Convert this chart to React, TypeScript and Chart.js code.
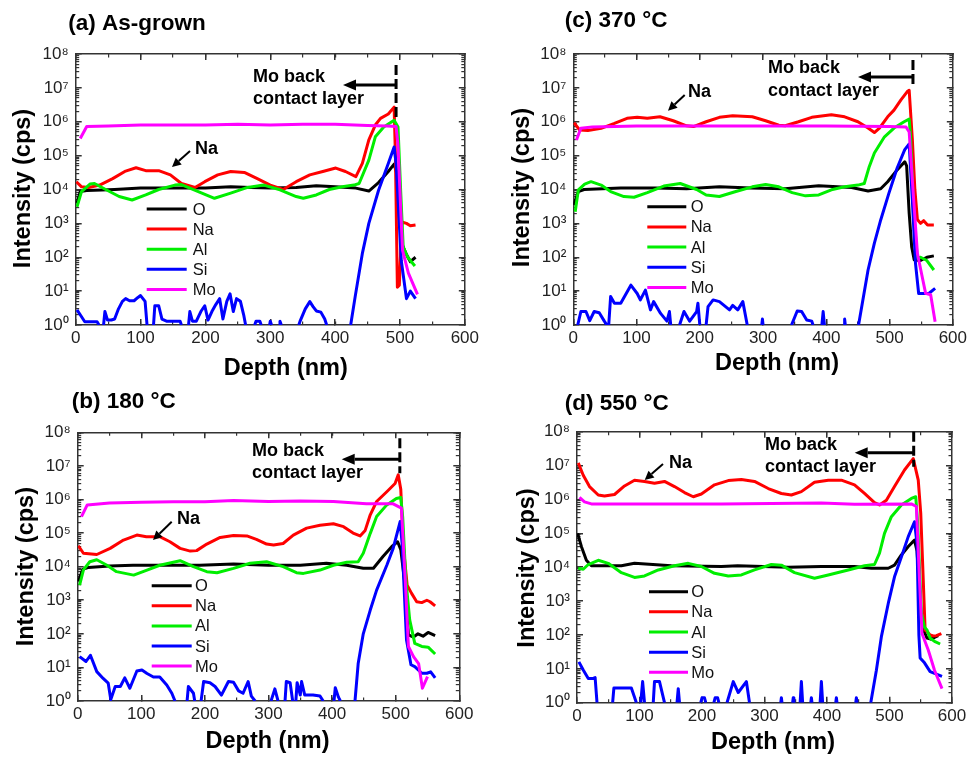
import React, { useEffect, useRef } from 'react';
import { Chart, registerables } from 'chart.js';

Chart.register(...registerables);

const FONT = "'Liberation Sans', Arial, Helvetica, sans-serif";

const ELEMENTS = ['O', 'Na', 'Al', 'Si', 'Mo'];
const ELEMENT_COLORS = ['#000000', '#ff0000', '#00ee00', '#0000ff', '#ff00ff'];
const DEPTH_MIN = 0;
const DEPTH_MAX = 600;
const DEPTH_MAJOR_STEP = 100;
const DEPTH_MINOR_STEP = 50;
const DECADES = [0, 1, 2, 3, 4, 5, 6, 7, 8];
const MINOR_MULTIPLES = [1, 2, 3, 4, 5, 6, 7, 8, 9];
const SUPERSCRIPTS = ['⁰', '¹', '²', '³', '⁴', '⁵', '⁶', '⁷', '⁸'];
const X_TITLE = 'Depth (nm)';
const Y_TITLE = 'Intensity (cps)';
const MO_TEXT = ['Mo back', 'contact layer'];
const NA_TEXT = 'Na';

type Pt = [number, number | null];

// ---------- (a) As-grown ----------
const A_INTERFACE = 494;
const A_O: Pt[] = [[2,3.9e3],[7,8.7e3],[17,9.3e3],[40,9.6e3],[60,1.0e4],[100,1.1e4],[150,1.1e4],[200,1.1e4],[239,1.2e4],[270,1.15e4],[300,1.1e4],[340,1.15e4],[371,1.3e4],[400,1.2e4],[432,1.1e4],[452,9e3],[467,1.6e4],[482,3.4e4],[491,5.6e4],[495,3e4],[498,2e3],[503,2.5e2],[510,1.2e2],[516,74],[524,100]];
const A_NA: Pt[] = [[1,1.7e4],[9,1.2e4],[20,1.15e4],[37,1.35e4],[57,2.1e4],[77,3.5e4],[93,4.4e4],[108,3.6e4],[128,3.6e4],[146,2.7e4],[163,1.5e4],[184,1.15e4],[199,1.7e4],[219,2.7e4],[239,3.4e4],[260,3.2e4],[280,2.1e4],[300,1.35e4],[320,1.0e4],[340,1.7e4],[361,2.7e4],[381,3.4e4],[401,4.3e4],[416,3.4e4],[432,2.4e4],[442,5.9e4],[452,2.9e5],[462,8e5],[470,1.26e6],[482,1.7e6],[491,2.7e6],[493,1e5],[496,13],[499,15],[503,1.1e3],[510,1e3],[516,8.5e2],[524,9e2]];
const A_AL: Pt[] = [[2,3.1e3],[9,8.7e3],[22,1.45e4],[29,1.5e4],[47,9.8e3],[67,6.2e3],[87,4.9e3],[108,6.9e3],[128,1.0e4],[153,1.35e4],[163,1.4e4],[189,8.7e3],[214,5.5e3],[239,7.8e3],[265,1.15e4],[290,1.35e4],[315,9.8e3],[340,6.2e3],[351,5.5e3],[371,6.9e3],[391,1.0e4],[411,1.2e4],[429,1.35e4],[437,1.5e4],[452,7.4e4],[462,3.6e5],[475,7e5],[491,1.1e6],[497,7e5],[501,1e4],[505,2e2],[512,1e2],[523,55]];
const A_SI: Pt[] = [[2,2.8],[7,2],[14,1.25],[25,1.25],[33,1.25],[36,1],[37,null],[43,1],[45,2.5],[49,1.4],[55,1.4],[60,1.5],[66,3],[72,5],[77,6],[83,5.2],[90,5.2],[96,6.5],[100,7.4],[107,5],[110,1],[111,null],[120,1],[122,3.7],[128,3.7],[133,1.5],[140,1.3],[152,1.3],[161,1.3],[163,1],[164,null],[174,1],[176,2.5],[180,1.3],[186,1.3],[193,2.5],[199,3.7],[204,1.4],[210,2.5],[216,4],[222,6],[227,1.5],[233,5],[238,8.3],[243,2.5],[248,6],[254,5],[259,2],[262,1],[263,null],[276,1],[278,1.3],[284,1.3],[286,1],[287,null],[299,1],[300,1.3],[302,1],[303,null],[314,1],[315,1.3],[317,1],[318,null],[344,1],[346,1.3],[354,3],[361,4.9],[366,3.5],[371,2.6],[378,2.4],[384,1.5],[387,1],[388,null],[424,1],[431,7],[442,1.3e2],[452,1e3],[467,9.5e3],[482,5.9e4],[491,1.8e5],[494,6e4],[497,5e3],[502,80],[510,6],[516,10],[524,6]];
const A_MO: Pt[] = [[7,3.2e5],[17,7.2e5],[50,7.5e5],[100,8e5],[150,8e5],[200,8e5],[250,8.5e5],[300,8e5],[350,8.5e5],[400,8.5e5],[450,7.8e5],[480,7.5e5],[494,7.2e5],[497,2e5],[501,3e3],[504,1.6e2],[513,34],[527,8]];

// ---------- (c) 370 °C ----------
const C_INTERFACE = 537;
const C_O: Pt[] = [[1,3.5e3],[8,8.7e3],[17,1.0e4],[75,1.1e4],[130,1.1e4],[179,1.05e4],[231,1.2e4],[280,1.1e4],[335,1.05e4],[388,1.3e4],[440,1.15e4],[466,9e3],[486,1.05e4],[497,1.7e4],[512,3.8e4],[524,6.6e4],[527,5e4],[531,2e3],[535,2e2],[539,83],[549,80],[559,1e2],[570,110]];
const C_NA: Pt[] = [[1,9.4e5],[10,5.7e5],[23,5.5e5],[44,6.4e5],[65,8.9e5],[85,1.26e6],[101,1.35e6],[117,1.26e6],[137,1.4e6],[158,1.07e6],[179,7.6e5],[190,7.2e5],[210,1e6],[231,1.35e6],[252,1.5e6],[283,1.4e6],[304,1.07e6],[325,7.9e5],[335,7.6e5],[356,1e6],[377,1.35e6],[408,1.6e6],[429,1.4e6],[450,1e6],[466,6.5e5],[476,4.8e5],[484,6.5e5],[497,1.4e6],[507,2.2e6],[518,4.4e6],[528,7.8e6],[531,8.5e6],[536,3e5],[540,1e4],[544,1.3e3],[549,1.0e3],[554,1.2e3],[560,9e2],[570,9e2]];
const C_AL: Pt[] = [[3,2.2e3],[8,9.8e3],[18,1.45e4],[28,1.7e4],[44,1.35e4],[59,8.7e3],[80,6.2e3],[96,5.9e3],[117,8.1e3],[143,1.26e4],[169,1.5e4],[195,1.0e4],[210,6.9e3],[231,6.2e3],[257,8.7e3],[283,1.2e4],[304,1.4e4],[325,1.2e4],[346,8.1e3],[367,6.5e3],[388,6.9e3],[408,9.8e3],[429,1.2e4],[450,1.35e4],[460,1.5e4],[468,4.8e4],[476,1.2e5],[492,3.6e5],[507,6.5e5],[523,1e6],[531,1.2e6],[533,4e5],[538,2e3],[544,93],[549,1e2],[559,80],[570,42]];
const C_SI: Pt[] = [[7,1],[12,2.5],[20,2.5],[26,1.35],[33,2.5],[41,2.3],[49,1.3],[53,1],[54,null],[56,1],[59,6.9],[65,4.4],[75,4.4],[91,15],[101,8.5],[106,5.5],[114,10.7],[122,2.8],[127,4.9],[138,2.2],[148,1.3],[152,2.5],[154,1],[155,null],[168,1],[175,2.5],[184,1.3],[195,2.5],[197,4.4],[200,1],[201,null],[210,1],[213,3.5],[221,5.5],[231,4.9],[247,2.8],[252,3.8],[260,2.8],[268,4.9],[275,1],[276,null],[298,1],[299,1.5],[300,1],[301,null],[345,1],[354,2.6],[361,2.5],[369,1.4],[377,1.3],[379,1],[380,null],[393,1],[395,2.5],[397,1],[398,null],[428,1],[429,1.5],[430,1],[431,null],[451,1],[466,42],[476,2.6e2],[486,1.26e3],[499,7.8e3],[512,4.3e4],[524,1.5e5],[531,2.2e5],[536,4.9e3],[541,66],[546,8.5],[554,8.5],[562,8.5],[572,12]];
const C_MO: Pt[] = [[5,2.9e5],[12,6.4e5],[30,7e5],[100,7.5e5],[200,7.5e5],[300,7.5e5],[400,7.5e5],[500,7.2e5],[526,7e5],[531,5e5],[537,1e4],[544,1.3e2],[551,30],[557,8.6],[565,7.8],[572,1.25]];

// ---------- (b) 180 °C ----------
const B_INTERFACE = 506.5;
const B_O: Pt[] = [[1,3.6e3],[8,8.3e3],[17,9.5e3],[50,1.05e4],[87,1.1e4],[140,1.1e4],[192,1.1e4],[245,1.2e4],[300,1.1e4],[350,1.1e4],[391,1.26e4],[423,1.1e4],[449,9e3],[465,9e3],[480,2e4],[494,4e4],[503,5.5e4],[508,3.2e4],[515,2.5e3],[520,93],[528,80],[535,1e2],[543,85],[551,110],[562,89]];
const B_NA: Pt[] = [[1,4.2e4],[9,2.5e4],[30,2.3e4],[51,3.5e4],[72,6.2e4],[93,8.7e4],[108,7.8e4],[129,7.8e4],[145,5.5e4],[161,3.5e4],[177,2.9e4],[187,3e4],[203,4.7e4],[224,7.4e4],[245,8.4e4],[266,8.2e4],[281,6.5e4],[297,4.7e4],[308,4.4e4],[323,4.9e4],[339,8.7e4],[360,1.4e5],[381,1.7e5],[402,1.9e5],[418,1.55e5],[433,1e5],[444,8.2e4],[452,1.2e5],[460,3.5e5],[470,8.7e5],[486,1.7e6],[499,3e6],[504,5.4e6],[508,2e6],[512,4e4],[518,2.8e3],[525,1.6e3],[533,9e2],[541,8.5e2],[549,1e3],[554,9e2],[562,6.8e2]];
const B_AL: Pt[] = [[3,2.8e3],[9,8e3],[19,1.4e4],[30,1.6e4],[46,1.1e4],[61,7.1e3],[88,5.6e3],[109,7.9e3],[129,1.1e4],[161,1.5e4],[182,1e4],[203,7.1e3],[219,6.6e3],[245,8.9e3],[271,1.26e4],[297,1.4e4],[323,1e4],[344,6.6e3],[355,6.3e3],[381,7.9e3],[402,1.1e4],[423,1.35e4],[441,1.4e4],[449,2.5e4],[460,9.8e4],[470,3.1e5],[486,6.9e5],[501,1.07e6],[508,1.15e6],[511,3e5],[516,4e3],[522,2.6e2],[530,52],[541,42],[551,40],[562,25]];
const B_SI: Pt[] = [[3,21],[13,15],[20,23],[30,7.5],[40,4.7],[48,3.4],[52,1.1],[59,2.7],[67,2.7],[74,4.9],[82,2.4],[93,7.8],[101,8.4],[109,6.6],[119,5.2],[129,5.2],[140,3],[148,1.7],[153,1],[154,null],[172,1],[174,2.7],[182,1.7],[184,1],[185,null],[194,1],[198,3.8],[208,3.5],[216,2.7],[226,1.5],[237,3.8],[245,3.6],[253,2],[260,1.7],[268,3.8],[273,1.4],[279,1],[280,null],[304,1],[310,2.3],[315,1],[316,null],[326,1],[328,3.8],[334,3.5],[338,1],[339,null],[343,1],[345,3.5],[350,1.5],[352,3.8],[357,1.5],[370,1.5],[381,1.4],[386,1],[387,null],[403,1],[405,2.5],[410,1.3],[413,1],[414,null],[436,1],[441,13],[449,1e2],[460,5.1e2],[470,2e3],[486,1.1e4],[496,3.5e4],[507,2.2e5],[510,5e4],[517,66],[524,12],[530,10.5],[541,6.7],[549,6.7],[555,7.4],[562,4.9]];
const B_MO: Pt[] = [[6,3.1e5],[15,6.9e5],[50,7.8e5],[100,8.2e5],[150,8.5e5],[200,8.5e5],[245,9.3e5],[300,8.7e5],[350,9e5],[402,8.7e5],[454,7.4e5],[496,7.4e5],[509,5.5e5],[515,4e3],[520,42],[528,21],[536,13],[542,2.4],[550,5.3]];

// ---------- (d) 550 °C ----------
const D_INTERFACE = 538.7;
const D_O: Pt[] = [[1,1e5],[7,4.1e4],[15,1.6e4],[23,1.1e4],[71,1.1e4],[92,1.3e4],[151,1.1e4],[231,1.05e4],[257,1.1e4],[338,1e4],[391,1.05e4],[444,1.05e4],[471,9.3e3],[498,9.3e3],[508,1.15e4],[519,2.3e4],[530,4.1e4],[540,6.3e4],[544,3e4],[548,2e3],[551,3e2],[556,1.2e2],[560,81],[566,75],[572,85],[578,95]];
const D_NA: Pt[] = [[2,1.2e7],[10,5.2e6],[20,2.4e6],[34,1.35e6],[44,1.26e6],[60,1.4e6],[76,2.5e6],[92,3.7e6],[108,3.4e6],[124,3e6],[140,3.4e6],[156,2.4e6],[172,1.6e6],[186,1.2e6],[199,1.45e6],[220,2.7e6],[242,3.6e6],[263,3.9e6],[284,3.4e6],[306,2.1e6],[327,1.5e6],[343,1.35e6],[359,1.7e6],[380,3.2e6],[402,3.7e6],[423,3.7e6],[444,2.7e6],[460,1.5e6],[476,8.1e5],[484,6.9e5],[495,9.5e5],[508,2.4e6],[524,7.4e6],[538,1.6e7],[546,3.7e6],[550,3.9e5],[554,4.2e3],[557,1.4e2],[560,1.26e2],[565,1e2],[570,93],[575,95],[583,110]];
const D_AL: Pt[] = [[2,9.3e3],[10,8.7e3],[18,1.2e4],[34,1.6e4],[50,1.3e4],[71,6.9e3],[92,5e3],[108,5.5e3],[130,8.3e3],[156,1.1e4],[178,1.3e4],[199,1.05e4],[220,6.6e3],[242,5.5e3],[263,5.9e3],[284,8.3e3],[311,1.2e4],[327,1.15e4],[348,6.9e3],[380,4.7e3],[402,5.9e3],[434,8.3e3],[460,1.1e4],[476,1.2e4],[484,2.6e4],[492,1e5],[503,3.1e5],[519,6.9e5],[535,1.07e6],[542,1.2e6],[545,2e5],[551,4.4e2],[556,1.7e2],[560,1.4e2],[565,80],[572,65],[581,54]];
const D_SI: Pt[] = [[3,16],[10,9.2],[18,5.2],[26,5.2],[29,5.5],[32,1],[33,null],[57,1],[59,2.7],[87,2.7],[95,1],[96,null],[102,1],[105,4.2],[108,1],[109,null],[122,1],[124,4.2],[132,4.2],[140,1],[141,null],[160,1],[162,2.6],[164,1],[165,null],[198,1],[200,1.4],[204,1.4],[206,1],[207,null],[219,1],[221,1.4],[225,1.4],[227,1],[228,null],[240,1],[250,4.2],[258,2],[271,4.2],[276,1],[277,null],[326,1],[327,1.4],[328,1],[329,null],[345,1],[346,1.4],[347,1],[348,null],[357,1],[359,4.2],[361,1],[362,null],[374,1],[375,1.4],[376,1],[377,null],[389,1],[391,4.2],[393,1],[394,null],[414,1],[415,1.4],[416,1],[417,null],[446,1],[447,1.4],[448,1],[449,null],[470,1],[479,9.1],[487,89],[498,8.5e2],[508,5.2e3],[519,2e4],[530,8e4],[540,2.2e5],[544,5e4],[547,1e2],[549,21],[556,15],[565,8.3],[575,7],[584,6]];
const D_MO: Pt[] = [[4,1.15e6],[12,8.5e5],[23,7.4e5],[100,7.4e5],[231,7.4e5],[391,7.8e5],[444,7.2e5],[535,7.4e5],[543,6.2e5],[548,4.2e3],[552,1.1e2],[562,36],[572,9.1],[584,2.6]];

// ---------- layout of the four panels ----------
type PanelCfg = {
  key: string; title: string;
  box: { left: number; top: number; w: number; h: number };
  yAxisW: number; padTop: number; padRight: number; xAxisH: number;
  series: Pt[][]; iface: number;
  titlePos: [number, number]; yTitlePos: [number, number]; xTitlePos: [number, number];
  legend: { x1: number; x2: number; tx: number; y0: number; dy: number };
  mo: { x: number; y1: number; y2: number; arrowY: number; tipX: number; dashY1: number; dashY2: number };
  na: { x: number; y: number; from: [number, number]; to: [number, number] };
};

const PANELS: PanelCfg[] = [
  {
    key: 'a', title: '(a) As-grown', box: { left: 0, top: 0, w: 488, h: 380 },
    yAxisW: 75.7, padTop: 54, padRight: 17, xAxisH: 55,
    series: [A_O, A_NA, A_AL, A_SI, A_MO], iface: A_INTERFACE,
    titlePos: [68.3, 23.3], yTitlePos: [23.3, 188.5], xTitlePos: [285.8, 368.3],
    legend: { x1: 146.7, x2: 186.7, tx: 192.7, y0: 209, dy: 20.1 },
    mo: { x: 253, y1: 77, y2: 99, arrowY: 85, tipX: 343, dashY1: 65, dashY2: 120 },
    na: { x: 195, y: 149, from: [190, 151], to: [172, 167] },
  },
  {
    key: 'c', title: '(c) 370 °C', box: { left: 488, top: 0, w: 488, h: 380 },
    yAxisW: 85.3, padTop: 54, padRight: 18.7, xAxisH: 55,
    series: [C_O, C_NA, C_AL, C_SI, C_MO], iface: C_INTERFACE,
    titlePos: [76.7, 20.7], yTitlePos: [35, 187.5], xTitlePos: [289, 363.3],
    legend: { x1: 159.3, x2: 198.3, tx: 202.7, y0: 206.7, dy: 20.2 },
    mo: { x: 280, y1: 68, y2: 91, arrowY: 77, tipX: 370, dashY1: 60, dashY2: 87 },
    na: { x: 200, y: 92, from: [196.7, 95], to: [180, 110.7] },
  },
  {
    key: 'b', title: '(b) 180 °C', box: { left: 0, top: 380, w: 488, h: 377 },
    yAxisW: 77.7, padTop: 52.3, padRight: 28.7, xAxisH: 56,
    series: [B_O, B_NA, B_AL, B_SI, B_MO], iface: B_INTERFACE,
    titlePos: [71.7, 21.7], yTitlePos: [26.7, 186.7], xTitlePos: [267.5, 361.7],
    legend: { x1: 151.7, x2: 191.7, tx: 195, y0: 205.7, dy: 20.1 },
    mo: { x: 252, y1: 71, y2: 93, arrowY: 79.3, tipX: 341.7, dashY1: 58.3, dashY2: 93.3 },
    na: { x: 177, y: 139, from: [171.7, 141.7], to: [153, 160] },
  },
  {
    key: 'd', title: '(d) 550 °C', box: { left: 488, top: 380, w: 488, h: 377 },
    yAxisW: 89, padTop: 51.7, padRight: 24, xAxisH: 54.3,
    series: [D_O, D_NA, D_AL, D_SI, D_MO], iface: D_INTERFACE,
    titlePos: [76.7, 24], yTitlePos: [40, 188], xTitlePos: [285, 362.7],
    legend: { x1: 161, x2: 200, tx: 203.3, y0: 211.7, dy: 20.15 },
    mo: { x: 277, y1: 65, y2: 87, arrowY: 72.7, tipX: 366.7, dashY1: 51.7, dashY2: 86.7 },
    na: { x: 181, y: 82.7, from: [175, 84], to: [156.7, 100] },
  },
];

const AXIS_COLOR = '#333333';
const TICK_LABEL_COLOR = '#222222';

function drawArrow(ctx: CanvasRenderingContext2D, x1: number, y1: number, x2: number, y2: number, lw: number, headLen: number, headHalf: number) {
  const ang = Math.atan2(y2 - y1, x2 - x1);
  const bx = x2 - Math.cos(ang) * headLen;
  const by = y2 - Math.sin(ang) * headLen;
  ctx.lineWidth = lw;
  ctx.beginPath();
  ctx.moveTo(x1, y1);
  ctx.lineTo(bx, by);
  ctx.stroke();
  ctx.beginPath();
  ctx.moveTo(x2, y2);
  ctx.lineTo(bx + Math.sin(ang) * headHalf, by - Math.cos(ang) * headHalf);
  ctx.lineTo(bx - Math.sin(ang) * headHalf, by + Math.cos(ang) * headHalf);
  ctx.closePath();
  ctx.fill();
}

function makeDecor(p: PanelCfg) {
  return {
    id: 'decor_' + p.key,
    afterDraw(chart: any) {
      const ctx: CanvasRenderingContext2D = chart.ctx;
      const xs = chart.scales.x;
      ctx.save();
      ctx.fillStyle = '#000';
      ctx.strokeStyle = '#000';
      ctx.textBaseline = 'middle';

      ctx.font = `bold 22.5px ${FONT}`;
      ctx.textAlign = 'left';
      ctx.fillText(p.title, p.titlePos[0], p.titlePos[1]);

      ctx.font = `bold 23.5px ${FONT}`;
      ctx.textAlign = 'center';
      ctx.fillText(X_TITLE, p.xTitlePos[0], p.xTitlePos[1]);
      ctx.save();
      ctx.translate(p.yTitlePos[0], p.yTitlePos[1]);
      ctx.rotate(-Math.PI / 2);
      ctx.fillText(Y_TITLE, 0, 0);
      ctx.restore();

      // legend
      chart.data.datasets.forEach((ds: any, i: number) => {
        const y = p.legend.y0 + i * p.legend.dy;
        ctx.strokeStyle = ds.borderColor;
        ctx.lineWidth = 3;
        ctx.beginPath();
        ctx.moveTo(p.legend.x1, y);
        ctx.lineTo(p.legend.x2, y);
        ctx.stroke();
        ctx.fillStyle = '#111';
        ctx.font = `16.5px ${FONT}`;
        ctx.textAlign = 'left';
        ctx.fillText(ds.label, p.legend.tx, y + 1);
      });

      // Mo back contact annotation
      ctx.fillStyle = '#000';
      ctx.strokeStyle = '#000';
      ctx.font = `bold 18px ${FONT}`;
      ctx.textAlign = 'left';
      ctx.fillText(MO_TEXT[0], p.mo.x, p.mo.y1);
      ctx.fillText(MO_TEXT[1], p.mo.x, p.mo.y2);
      const ix = xs.getPixelForValue(p.iface);
      ctx.save();
      ctx.lineWidth = 3;
      ctx.setLineDash([10, 4]);
      ctx.beginPath();
      ctx.moveTo(ix, p.mo.dashY1);
      ctx.lineTo(ix, p.mo.dashY2);
      ctx.stroke();
      ctx.restore();
      drawArrow(ctx, ix, p.mo.arrowY, p.mo.tipX, p.mo.arrowY, 3, 13, 5.5);

      // Na annotation
      ctx.fillText(NA_TEXT, p.na.x, p.na.y);
      drawArrow(ctx, p.na.from[0], p.na.from[1], p.na.to[0], p.na.to[1], 2, 9, 4.5);
      ctx.restore();
    },
  };
}

function buildScales(p: PanelCfg) {
  const setW = (w: number) => (s: any) => { s.width = w; };
  const setH = (h: number) => (s: any) => { s.height = h; };
  const majorY = () => DECADES.map((e) => ({ value: Math.pow(10, e) }));
  const minorY = () => {
    const out: { value: number }[] = [];
    DECADES.forEach((e) => {
      if (e === 8) { out.push({ value: 1e8 }); return; }
      MINOR_MULTIPLES.forEach((m) => out.push({ value: m * Math.pow(10, e) }));
    });
    return out;
  };
  const gridMajor = { display: true, drawOnChartArea: false, drawTicks: true, tickLength: -6, color: AXIS_COLOR, lineWidth: 1.5 };
  const gridMinor = { display: true, drawOnChartArea: false, drawTicks: true, tickLength: -3.5, color: AXIS_COLOR, lineWidth: 1.2 };
  const border = { display: true, color: AXIS_COLOR, width: 1.5 };
  const noBorder = { display: false };
  const tickFont = { family: FONT, size: 17 };
  return {
    x: {
      axis: 'x', type: 'linear', position: 'bottom', min: DEPTH_MIN, max: DEPTH_MAX, weight: 1,
      ticks: { stepSize: DEPTH_MAJOR_STEP, autoSkip: false, maxRotation: 0, padding: 9, color: TICK_LABEL_COLOR, font: tickFont },
      grid: gridMajor, border, afterFit: setH(p.xAxisH),
    },
    y: {
      axis: 'y', type: 'logarithmic', position: 'left', min: 1, max: 1e8, weight: 1,
      afterBuildTicks: (s: any) => { s.ticks = majorY(); },
      ticks: {
        autoSkip: false, padding: 13, color: TICK_LABEL_COLOR, font: tickFont,
        callback: (v: number) => '10' + SUPERSCRIPTS[Math.round(Math.log10(v))],
      },
      grid: gridMajor, border, afterFit: setW(p.yAxisW),
    },
    xMinor: {
      axis: 'x', type: 'linear', position: 'bottom', min: DEPTH_MIN, max: DEPTH_MAX, weight: 0,
      ticks: { display: false, stepSize: DEPTH_MINOR_STEP }, grid: gridMinor, border: noBorder, afterFit: setH(0),
    },
    yMinor: {
      axis: 'y', type: 'logarithmic', position: 'left', min: 1, max: 1e8, weight: 0,
      afterBuildTicks: (s: any) => { s.ticks = minorY(); },
      ticks: { display: false }, grid: gridMinor, border: noBorder, afterFit: setW(0),
    },
    xTop: {
      axis: 'x', type: 'linear', position: 'top', min: DEPTH_MIN, max: DEPTH_MAX,
      ticks: { display: false, stepSize: DEPTH_MAJOR_STEP }, grid: gridMajor, border, afterFit: setH(0),
    },
    xTopMinor: {
      axis: 'x', type: 'linear', position: 'top', min: DEPTH_MIN, max: DEPTH_MAX,
      ticks: { display: false, stepSize: DEPTH_MINOR_STEP }, grid: gridMinor, border: noBorder, afterFit: setH(0),
    },
    yRight: {
      axis: 'y', type: 'logarithmic', position: 'right', min: 1, max: 1e8,
      afterBuildTicks: (s: any) => { s.ticks = majorY(); },
      ticks: { display: false }, grid: gridMajor, border, afterFit: setW(0),
    },
    yRightMinor: {
      axis: 'y', type: 'logarithmic', position: 'right', min: 1, max: 1e8,
      afterBuildTicks: (s: any) => { s.ticks = minorY(); },
      ticks: { display: false }, grid: gridMinor, border: noBorder, afterFit: setW(0),
    },
  };
}

function Panel({ p }: { p: PanelCfg }) {
  const ref = useRef<HTMLCanvasElement | null>(null);
  useEffect(() => {
    if (!ref.current) return;
    const datasets = ELEMENTS.map((name, i) => ({
      label: name,
      data: p.series[i].map(([x, y]) => ({ x, y })),
      borderColor: ELEMENT_COLORS[i],
      backgroundColor: ELEMENT_COLORS[i],
      borderWidth: 3,
      pointRadius: 0,
      pointHoverRadius: 0,
      tension: 0,
      spanGaps: false,
      borderJoinStyle: 'round',
      order: ELEMENTS.length - 1 - i,
      xAxisID: 'x',
      yAxisID: 'y',
    }));
    const chart = new Chart(ref.current, {
      type: 'line',
      data: { datasets } as any,
      options: {
        responsive: false,
        animation: false,
        devicePixelRatio: 1,
        layout: { padding: { left: 0, top: p.padTop, right: p.padRight, bottom: 0 } },
        plugins: { legend: { display: false }, tooltip: { enabled: false }, title: { display: false } },
        events: [],
        scales: buildScales(p) as any,
      },
      plugins: [makeDecor(p)],
    } as any);
    return () => chart.destroy();
  }, []);
  return (
    <canvas
      ref={ref}
      width={p.box.w}
      height={p.box.h}
      style={{ position: 'absolute', left: p.box.left, top: p.box.top, width: p.box.w, height: p.box.h }}
    />
  );
}

export default function App() {
  return (
    <div style={{ position: 'absolute', left: 0, top: 0, width: 976, height: 757, background: '#ffffff', overflow: 'hidden' }}>
      {PANELS.map((p) => (
        <Panel key={p.key} p={p} />
      ))}
    </div>
  );
}
